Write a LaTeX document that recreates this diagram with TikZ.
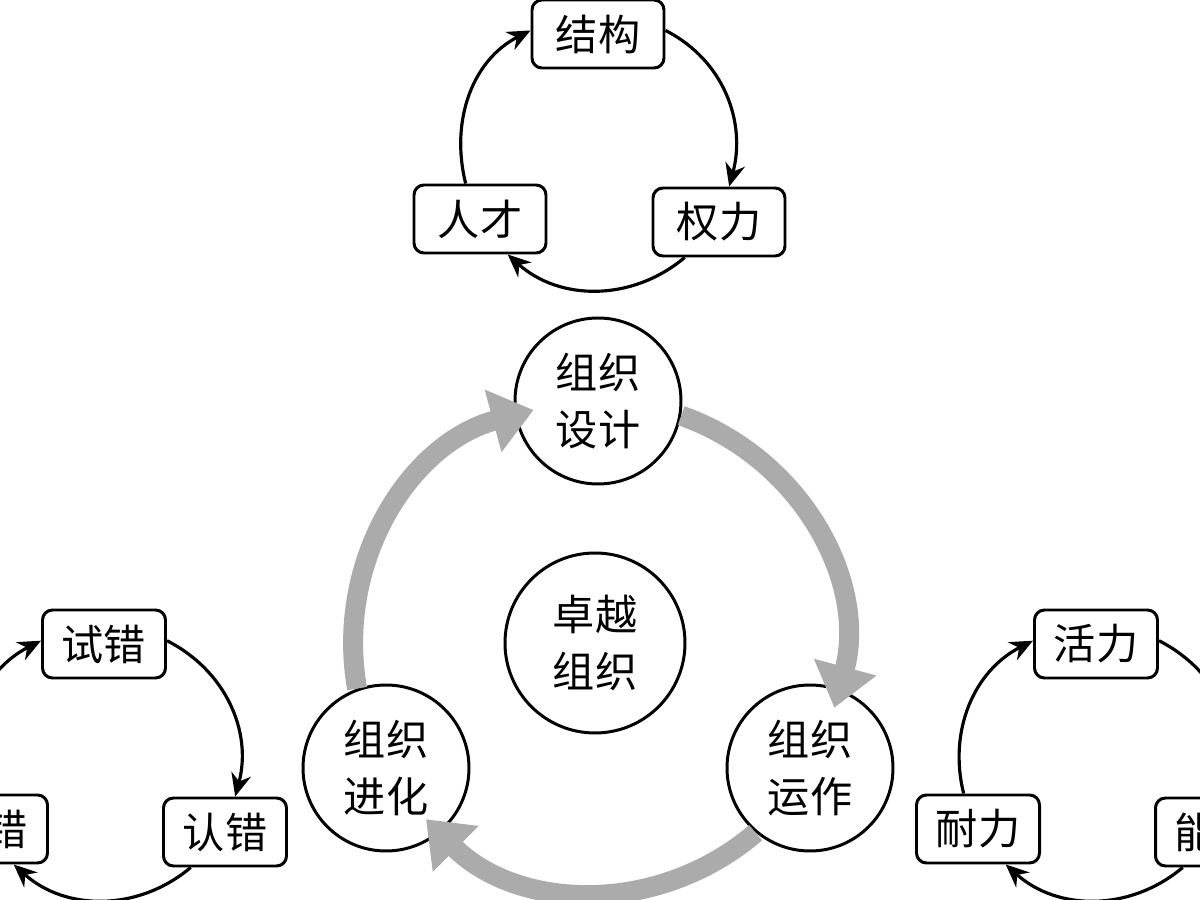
\documentclass[tikz,border=0pt]{standalone}
\usepackage{fontspec}
\usepackage{tikz}
\usetikzlibrary{arrows.meta}
\newfontfamily\cjk{Noto Sans CJK SC}
\definecolor{CycGray}{HTML}{ABABAB}
\tikzset{
  tagbox/.style={draw,line width=0.85pt,rounded corners=1mm,fill=white,
    minimum height=0.68cm,inner sep=0pt,font=\cjk\fontsize{12}{16}\selectfont},
  orgcirc/.style={circle,draw,line width=0.85pt,fill=white,minimum size=1.66cm,
    inner sep=0pt,align=center,font=\cjk\fontsize{12}{16}\selectfont},
  loopline/.style={line width=0.9pt,-{Stealth[length=2.3mm,width=2mm]}},
  bigarrow/.style={draw=CycGray,line width=5.7pt,-{Triangle[length=4.2mm,width=6.2mm]}}
}
\newcommand{\MiniCycle}[6]{%
  \begin{scope}[shift={(#1)}]
    \node[tagbox,minimum width=#6] (#2Top) at (0,1.18) {#3};
    \node[tagbox,minimum width=#6] (#2Left) at (-1.18,-0.67) {#4};
    \node[tagbox,minimum width=#6] (#2Right) at (1.21,-0.70) {#5};
    \draw[loopline] (#2Left.112) to[out=104,in=207] (#2Top.177);
    \draw[loopline] (#2Top.3) to[out=-27,in=75] (#2Right.74);
    \draw[loopline] (#2Right.226) to[out=220,in=318] (#2Left.308);
  \end{scope}}

\begin{document}
\begin{tikzpicture}
  \useasboundingbox (0,0) rectangle (12,9);
  \clip (0,0) rectangle (12,9);
  % three small loops
  \MiniCycle{5.98,7.48}{struct}{结构}{人才}{权力}{1.32cm}
  \MiniCycle{1.04,1.38}{trial}{试错}{\phantom{错}错}{认错}{1.23cm}
  \MiniCycle{10.96,1.38}{vigor}{活力}{耐力}{能\phantom{能}}{1.23cm}
  % main loop
  \node[orgcirc] (sheji) at (5.98,4.99) {组织\\设计};
  \node[orgcirc] (jinhua) at (3.86,1.32) {组织\\进化};
  \node[orgcirc] (yunzuo) at (8.10,1.32) {组织\\运作};
  \node[orgcirc,minimum size=1.80cm] (zhuoyue) at (5.95,2.57) {卓越\\组织};
  \draw[bigarrow] (jinhua.110) to[out=100,in=195] ([shift={(188:0.65)}]sheji.center);
  \draw[bigarrow] (sheji.-10) to[out=-19.5,in=75] ([shift={(68:0.65)}]yunzuo.center);
  \draw[bigarrow] (yunzuo.230) to[out=220.5,in=315] ([shift={(308:0.65)}]jinhua.center);
\end{tikzpicture}
\end{document}
